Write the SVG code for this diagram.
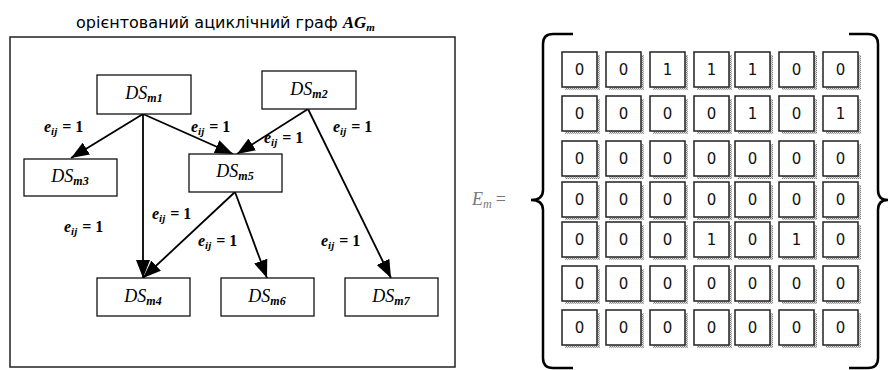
<svg xmlns="http://www.w3.org/2000/svg" width="888" height="370" viewBox="0 0 888 370">
<defs>
<style>
.frame{fill:none;stroke:#222;stroke-width:1.5}
.box{fill:#fff;stroke:#111;stroke-width:1.3}
.ds{font-family:"Liberation Serif",serif;font-style:italic;font-size:18px;fill:#000;text-anchor:middle}
.sub{font-size:12px;font-weight:bold}
.lbl{font-family:"Liberation Serif",serif;font-weight:bold;font-size:16px;fill:#000}
.lbl .i{font-style:italic}
.lbl .s{font-size:11px;font-style:italic}
.edge{stroke:#000;stroke-width:1.8;fill:none;marker-end:url(#ah)}
.title{font-family:"DejaVu Sans",sans-serif;font-size:16px;fill:#000}
.cell{fill:#fff;stroke:#222;stroke-width:1.5}
.shadow{fill:url(#dots)}
.dig{font-family:"DejaVu Sans",sans-serif;font-size:15px;fill:#111;text-anchor:middle}
.br{fill:none;stroke:#000;stroke-width:2.5}
</style>
<marker id="ah" markerUnits="userSpaceOnUse" viewBox="0 0 18 14" markerWidth="18" markerHeight="14" refX="18" refY="7" orient="auto">
<path d="M0,0 L18,7 L0,14 z" fill="#000"/>
</marker>
<pattern id="dots" width="2" height="2" patternUnits="userSpaceOnUse">
<rect width="2" height="2" fill="#e0e0e0"/>
<rect width="1" height="1" fill="#808080"/>
<rect x="1" y="1" width="1" height="1" fill="#a8a8a8"/>
</pattern>
</defs>
<rect width="888" height="370" fill="#fff"/>

<text class="title" x="76" y="28">орієнтований ациклічний граф <tspan font-family="Liberation Serif,serif" font-style="italic" font-weight="bold" font-size="17px">AG</tspan><tspan font-family="Liberation Serif,serif" font-style="italic" font-weight="bold" font-size="11px" dy="3">m</tspan></text>
<rect class="frame" x="10" y="37" width="445" height="330"/>

<g id="connectors">
<line class="edge" x1="143" y1="114" x2="71" y2="158"/>
<line class="edge" x1="143" y1="114" x2="143" y2="278"/>
<line class="edge" x1="143" y1="114" x2="233" y2="154"/>
<line class="edge" x1="308" y1="109" x2="237" y2="154"/>
<line class="edge" x1="308" y1="109" x2="391" y2="278"/>
<line class="edge" x1="235" y1="192" x2="143" y2="278"/>
<line class="edge" x1="235" y1="192" x2="267" y2="278"/>
</g>

<g id="edge-labels">
<text class="lbl" x="44" y="132"><tspan class="i">e</tspan><tspan class="s" dy="3">ij</tspan><tspan dy="-3" dx="5">= 1</tspan></text>
<text class="lbl" x="191" y="132"><tspan class="i">e</tspan><tspan class="s" dy="3">ij</tspan><tspan dy="-3" dx="5">= 1</tspan></text>
<text class="lbl" x="264" y="143"><tspan class="i">e</tspan><tspan class="s" dy="3">ij</tspan><tspan dy="-3" dx="5">= 1</tspan></text>
<text class="lbl" x="333" y="132"><tspan class="i">e</tspan><tspan class="s" dy="3">ij</tspan><tspan dy="-3" dx="5">= 1</tspan></text>
<text class="lbl" x="64" y="232"><tspan class="i">e</tspan><tspan class="s" dy="3">ij</tspan><tspan dy="-3" dx="5">= 1</tspan></text>
<text class="lbl" x="152" y="219"><tspan class="i">e</tspan><tspan class="s" dy="3">ij</tspan><tspan dy="-3" dx="5">= 1</tspan></text>
<text class="lbl" x="198" y="246"><tspan class="i">e</tspan><tspan class="s" dy="3">ij</tspan><tspan dy="-3" dx="5">= 1</tspan></text>
<text class="lbl" x="321" y="246"><tspan class="i">e</tspan><tspan class="s" dy="3">ij</tspan><tspan dy="-3" dx="5">= 1</tspan></text>
</g>

<g id="DSm1"><rect class="box" x="97" y="75" width="94" height="39"/><text class="ds" x="144" y="99">DS<tspan class="sub" dy="3">m1</tspan></text></g>
<g id="DSm2"><rect class="box" x="262" y="71" width="94" height="38"/><text class="ds" x="309" y="95">DS<tspan class="sub" dy="3">m2</tspan></text></g>
<g id="DSm3"><rect class="box" x="24" y="159" width="93" height="37"/><text class="ds" x="70" y="182">DS<tspan class="sub" dy="3">m3</tspan></text></g>
<g id="DSm5"><rect class="box" x="189" y="154" width="93" height="38"/><text class="ds" x="235" y="177">DS<tspan class="sub" dy="3">m5</tspan></text></g>
<g id="DSm4"><rect class="box" x="97" y="278" width="93" height="38"/><text class="ds" x="143" y="302">DS<tspan class="sub" dy="3">m4</tspan></text></g>
<g id="DSm6"><rect class="box" x="221" y="278" width="93" height="38"/><text class="ds" x="267" y="302">DS<tspan class="sub" dy="3">m6</tspan></text></g>
<g id="DSm7"><rect class="box" x="345" y="278" width="93" height="38"/><text class="ds" x="391" y="302">DS<tspan class="sub" dy="3">m7</tspan></text></g>

<g id="matrix-label">
<text x="472" y="205" font-family="Liberation Serif,serif" font-style="italic" font-size="18px" fill="#777">E<tspan font-size="12px" dy="3">m</tspan><tspan dy="-3" dx="4" font-style="normal">=</tspan></text>
</g>

<g id="brackets">
<path class="br" d="M573,34 H553 Q543,34 543,44 V190 Q543,200 531,200 Q543,200 543,210 V358 Q543,368 553,368 H573"/>
<path class="br" d="M849,34 H868 Q878,34 878,44 V190 Q878,200 888,200 Q878,200 878,210 V358 Q878,368 868,368 H849"/>
</g>

<g id="matrix">
<g id="shadows">
<rect class="shadow" x="565" y="55" width="35" height="35"/><rect class="shadow" x="609" y="55" width="35" height="35"/><rect class="shadow" x="653" y="55" width="35" height="35"/><rect class="shadow" x="697" y="55" width="35" height="35"/><rect class="shadow" x="738" y="55" width="35" height="35"/><rect class="shadow" x="782" y="55" width="35" height="35"/><rect class="shadow" x="826" y="55" width="35" height="35"/>
<rect class="shadow" x="565" y="99" width="35" height="35"/><rect class="shadow" x="609" y="99" width="35" height="35"/><rect class="shadow" x="653" y="99" width="35" height="35"/><rect class="shadow" x="697" y="99" width="35" height="35"/><rect class="shadow" x="738" y="99" width="35" height="35"/><rect class="shadow" x="782" y="99" width="35" height="35"/><rect class="shadow" x="826" y="99" width="35" height="35"/>
<rect class="shadow" x="565" y="144" width="35" height="35"/><rect class="shadow" x="609" y="144" width="35" height="35"/><rect class="shadow" x="653" y="144" width="35" height="35"/><rect class="shadow" x="697" y="144" width="35" height="35"/><rect class="shadow" x="738" y="144" width="35" height="35"/><rect class="shadow" x="782" y="144" width="35" height="35"/><rect class="shadow" x="826" y="144" width="35" height="35"/>
<rect class="shadow" x="565" y="185" width="35" height="35"/><rect class="shadow" x="609" y="185" width="35" height="35"/><rect class="shadow" x="653" y="185" width="35" height="35"/><rect class="shadow" x="697" y="185" width="35" height="35"/><rect class="shadow" x="738" y="185" width="35" height="35"/><rect class="shadow" x="782" y="185" width="35" height="35"/><rect class="shadow" x="826" y="185" width="35" height="35"/>
<rect class="shadow" x="565" y="225" width="35" height="35"/><rect class="shadow" x="609" y="225" width="35" height="35"/><rect class="shadow" x="653" y="225" width="35" height="35"/><rect class="shadow" x="697" y="225" width="35" height="35"/><rect class="shadow" x="738" y="225" width="35" height="35"/><rect class="shadow" x="782" y="225" width="35" height="35"/><rect class="shadow" x="826" y="225" width="35" height="35"/>
<rect class="shadow" x="565" y="269" width="35" height="35"/><rect class="shadow" x="609" y="269" width="35" height="35"/><rect class="shadow" x="653" y="269" width="35" height="35"/><rect class="shadow" x="697" y="269" width="35" height="35"/><rect class="shadow" x="738" y="269" width="35" height="35"/><rect class="shadow" x="782" y="269" width="35" height="35"/><rect class="shadow" x="826" y="269" width="35" height="35"/>
<rect class="shadow" x="565" y="313" width="35" height="35"/><rect class="shadow" x="609" y="313" width="35" height="35"/><rect class="shadow" x="653" y="313" width="35" height="35"/><rect class="shadow" x="697" y="313" width="35" height="35"/><rect class="shadow" x="738" y="313" width="35" height="35"/><rect class="shadow" x="782" y="313" width="35" height="35"/><rect class="shadow" x="826" y="313" width="35" height="35"/>
</g>
<g id="cells">
<rect class="cell" x="562" y="52" width="35" height="35"/><rect class="cell" x="606" y="52" width="35" height="35"/><rect class="cell" x="650" y="52" width="35" height="35"/><rect class="cell" x="694" y="52" width="35" height="35"/><rect class="cell" x="735" y="52" width="35" height="35"/><rect class="cell" x="779" y="52" width="35" height="35"/><rect class="cell" x="823" y="52" width="35" height="35"/>
<rect class="cell" x="562" y="96" width="35" height="35"/><rect class="cell" x="606" y="96" width="35" height="35"/><rect class="cell" x="650" y="96" width="35" height="35"/><rect class="cell" x="694" y="96" width="35" height="35"/><rect class="cell" x="735" y="96" width="35" height="35"/><rect class="cell" x="779" y="96" width="35" height="35"/><rect class="cell" x="823" y="96" width="35" height="35"/>
<rect class="cell" x="562" y="141" width="35" height="35"/><rect class="cell" x="606" y="141" width="35" height="35"/><rect class="cell" x="650" y="141" width="35" height="35"/><rect class="cell" x="694" y="141" width="35" height="35"/><rect class="cell" x="735" y="141" width="35" height="35"/><rect class="cell" x="779" y="141" width="35" height="35"/><rect class="cell" x="823" y="141" width="35" height="35"/>
<rect class="cell" x="562" y="182" width="35" height="35"/><rect class="cell" x="606" y="182" width="35" height="35"/><rect class="cell" x="650" y="182" width="35" height="35"/><rect class="cell" x="694" y="182" width="35" height="35"/><rect class="cell" x="735" y="182" width="35" height="35"/><rect class="cell" x="779" y="182" width="35" height="35"/><rect class="cell" x="823" y="182" width="35" height="35"/>
<rect class="cell" x="562" y="222" width="35" height="35"/><rect class="cell" x="606" y="222" width="35" height="35"/><rect class="cell" x="650" y="222" width="35" height="35"/><rect class="cell" x="694" y="222" width="35" height="35"/><rect class="cell" x="735" y="222" width="35" height="35"/><rect class="cell" x="779" y="222" width="35" height="35"/><rect class="cell" x="823" y="222" width="35" height="35"/>
<rect class="cell" x="562" y="266" width="35" height="35"/><rect class="cell" x="606" y="266" width="35" height="35"/><rect class="cell" x="650" y="266" width="35" height="35"/><rect class="cell" x="694" y="266" width="35" height="35"/><rect class="cell" x="735" y="266" width="35" height="35"/><rect class="cell" x="779" y="266" width="35" height="35"/><rect class="cell" x="823" y="266" width="35" height="35"/>
<rect class="cell" x="562" y="310" width="35" height="35"/><rect class="cell" x="606" y="310" width="35" height="35"/><rect class="cell" x="650" y="310" width="35" height="35"/><rect class="cell" x="694" y="310" width="35" height="35"/><rect class="cell" x="735" y="310" width="35" height="35"/><rect class="cell" x="779" y="310" width="35" height="35"/><rect class="cell" x="823" y="310" width="35" height="35"/>
</g>
<g id="values">
<text class="dig" x="579.5" y="75">0</text><text class="dig" x="623.5" y="75">0</text><text class="dig" x="667.5" y="75">1</text><text class="dig" x="711.5" y="75">1</text><text class="dig" x="752.5" y="75">1</text><text class="dig" x="796.5" y="75">0</text><text class="dig" x="840.5" y="75">0</text>
<text class="dig" x="579.5" y="119">0</text><text class="dig" x="623.5" y="119">0</text><text class="dig" x="667.5" y="119">0</text><text class="dig" x="711.5" y="119">0</text><text class="dig" x="752.5" y="119">1</text><text class="dig" x="796.5" y="119">0</text><text class="dig" x="840.5" y="119">1</text>
<text class="dig" x="579.5" y="164">0</text><text class="dig" x="623.5" y="164">0</text><text class="dig" x="667.5" y="164">0</text><text class="dig" x="711.5" y="164">0</text><text class="dig" x="752.5" y="164">0</text><text class="dig" x="796.5" y="164">0</text><text class="dig" x="840.5" y="164">0</text>
<text class="dig" x="579.5" y="205">0</text><text class="dig" x="623.5" y="205">0</text><text class="dig" x="667.5" y="205">0</text><text class="dig" x="711.5" y="205">0</text><text class="dig" x="752.5" y="205">0</text><text class="dig" x="796.5" y="205">0</text><text class="dig" x="840.5" y="205">0</text>
<text class="dig" x="579.5" y="245">0</text><text class="dig" x="623.5" y="245">0</text><text class="dig" x="667.5" y="245">0</text><text class="dig" x="711.5" y="245">1</text><text class="dig" x="752.5" y="245">0</text><text class="dig" x="796.5" y="245">1</text><text class="dig" x="840.5" y="245">0</text>
<text class="dig" x="579.5" y="289">0</text><text class="dig" x="623.5" y="289">0</text><text class="dig" x="667.5" y="289">0</text><text class="dig" x="711.5" y="289">0</text><text class="dig" x="752.5" y="289">0</text><text class="dig" x="796.5" y="289">0</text><text class="dig" x="840.5" y="289">0</text>
<text class="dig" x="579.5" y="333">0</text><text class="dig" x="623.5" y="333">0</text><text class="dig" x="667.5" y="333">0</text><text class="dig" x="711.5" y="333">0</text><text class="dig" x="752.5" y="333">0</text><text class="dig" x="796.5" y="333">0</text><text class="dig" x="840.5" y="333">0</text>
</g>
</g>
</svg>
